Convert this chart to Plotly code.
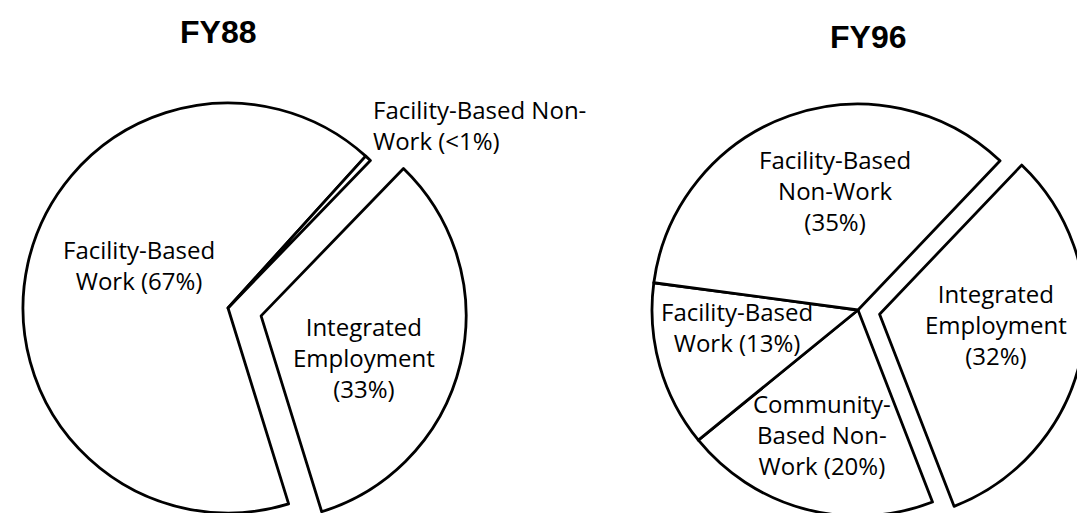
import math
import plotly.graph_objects as go

W, H = 1085, 513

# FY88 slices, clockwise from the start of the pulled slice
fy88_labels = ["Integrated Employment", "Facility-Based Work", "Facility-Based Non-Work"]
fy88_values = [33, 66.5, 0.5]
fy88_text = ["Integrated<br>Employment<br>(33%)", "Facility-Based<br>Work (67%)",
             "Facility-Based Non-<br>Work (<1%)"]

# FY96 slices
fy96_labels = ["Integrated Employment", "Community-Based Non-Work",
               "Facility-Based Work", "Facility-Based Non-Work"]
fy96_values = [32, 20, 13, 35]
fy96_text = ["Integrated<br>Employment<br>(32%)", "Community-<br>Based Non-<br>Work (20%)",
             "Facility-Based<br>Work (13%)", "Facility-Based<br>Non-Work<br>(35%)"]

titles = ["FY88", "FY96"]

LINE = "black"
LW = 2.8


def dom(cx, cy, r):
    # pixel box -> paper domain
    return dict(x=[(cx - r) / W, (cx + r) / W], y=[(H - (cy + r)) / H, (H - (cy - r)) / H])


def exploded_pie(fig, labels, values, cx, cy, r, rot, pulled, pull_px):
    total = sum(values)
    start = rot + 360 * sum(values[:pulled]) / total
    mid = math.radians(start + 180 * values[pulled] / total)
    dx, dy = pull_px * math.sin(mid), -pull_px * math.cos(mid)

    n = len(values)
    base_cols = ["white" if i != pulled else "rgba(0,0,0,0)" for i in range(n)]
    base_w = [LW if i != pulled else 0 for i in range(n)]
    out_cols = ["white" if i == pulled else "rgba(0,0,0,0)" for i in range(n)]
    out_w = [LW if i == pulled else 0 for i in range(n)]

    for cols, widths, (x0, y0) in [(base_cols, base_w, (cx, cy)),
                                    (out_cols, out_w, (cx + dx, cy + dy))]:
        fig.add_trace(go.Pie(
            labels=labels, values=values, sort=False, direction="clockwise",
            rotation=rot, textinfo="none", hoverinfo="label+percent",
            marker=dict(colors=cols, line=dict(color=LINE, width=widths)),
            domain=dom(x0, y0, r), showlegend=False,
        ))


fig = go.Figure()
exploded_pie(fig, fy88_labels, fy88_values, 220, 300, 205, 44, 0, 34)
exploded_pie(fig, fy96_labels, fy96_values, 850, 302, 206, 43.6, 0, 22)

lab_font = dict(family="Open Sans, Lato, sans-serif", size=24, color="black")


def ann(text, x, y, align="center", xanchor="center"):
    fig.add_annotation(text=text, x=x / W, y=1 - y / H, xref="paper", yref="paper",
                       showarrow=False, font=lab_font, align=align, xanchor=xanchor,
                       yanchor="middle")


# FY88 labels
ann(fy88_text[1], 131, 257)
ann(fy88_text[0], 356, 349)
ann(fy88_text[2], 363, 117, align="left", xanchor="left")

# FY96 labels
ann(fy96_text[3], 827, 183)
ann(fy96_text[2], 729, 319)
ann(fy96_text[1], 814, 426)
ann(fy96_text[0], 988, 316)

for t, (x, y) in zip(titles, [(210, 24), (860, 29)]):
    fig.add_annotation(text="<b>%s</b>" % t, x=x / W, y=1 - y / H, xref="paper", yref="paper",
                       showarrow=False, xanchor="center", yanchor="middle",
                       font=dict(family="Liberation Sans, Arial, sans-serif",
                                 size=32, color="black"))

fig.update_layout(width=W, height=H, margin=dict(l=0, r=0, t=0, b=0),
                  paper_bgcolor="white", plot_bgcolor="white", showlegend=False)

fig.write_html("out.html")
